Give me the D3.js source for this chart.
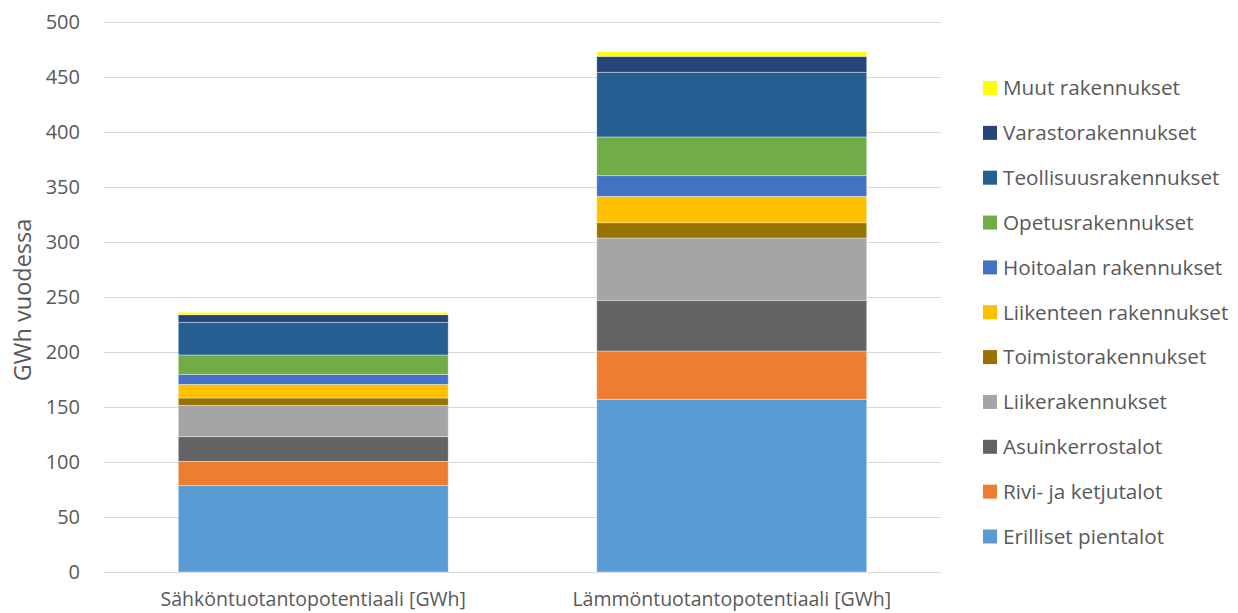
<!DOCTYPE html>
<html>
<head>
<meta charset="utf-8">
<script src="https://cdn.jsdelivr.net/npm/d3@7"></script>
<style>
  body { margin: 0; background: #fff; }
  text { font-family: "Open Sans", sans-serif; fill: #595959; }
</style>
</head>
<body>
<div id="chart"></div>
<script>
// data (GWh / year)
var categories = ["Sähköntuotantopotentiaali [GWh]", "Lämmöntuotantopotentiaali [GWh]"];
var seriesNames = ["Erilliset pientalot", "Rivi- ja ketjutalot", "Asuinkerrostalot", "Liikerakennukset",
    "Toimistorakennukset", "Liikenteen rakennukset", "Hoitoalan rakennukset", "Opetusrakennukset",
    "Teollisuusrakennukset", "Varastorakennukset", "Muut rakennukset"];
var sahko = [78.5, 22.1, 22.4, 28.5, 6.7, 12.4, 9.1, 17.6, 29.7, 6.9, 2.2];
var lampo = [157, 43.9, 46.1, 56.6, 13.9, 24, 18.8, 35.2, 58.8, 14.5, 4.2];
var colors = ["#5B9BD5", "#ED7D31", "#636363", "#A5A5A5", "#997300", "#FFC000",
    "#4472C4", "#70AD47", "#255E91", "#264478", "#FFFF00"];
var yTicks = [0, 50, 100, 150, 200, 250, 300, 350, 400, 450, 500];

var width = 1238, height = 613;
var margin = { top: 22, right: 297, bottom: 41, left: 104 };

var svg = d3.select("#chart").append("svg")
    .attr("width", width)
    .attr("height", height);

var x = d3.scaleBand()
    .domain(categories)
    .range([margin.left, width - margin.right])
    .paddingInner(0.355)
    .paddingOuter(0.1775);

var y = d3.scaleLinear()
    .domain([0, 500])
    .range([height - margin.bottom, margin.top]);

var color = d3.scaleOrdinal().domain(seriesNames).range(colors);

// rows for the stack
var rows = categories.map((c, i) => {
    var r = { cat: c };
    seriesNames.forEach((s, j) => { r[s] = (i == 0 ? sahko : lampo)[j]; });
    return r;
});
var stacked = d3.stack().keys(seriesNames)(rows);

// grid
svg.append("g")
    .selectAll("line")
    .data(yTicks)
    .enter()
    .append("line")
    .attr("x1", margin.left)
    .attr("x2", width - margin.right)
    .attr("y1", d => Math.round(y(d)) + 0.5)
    .attr("y2", d => Math.round(y(d)) + 0.5)
    .attr("stroke", "#d9d9d9")
    .attr("stroke-width", 1);

// y axis labels
var yAxis = svg.append("g")
    .attr("transform", "translate(" + (margin.left - 24) + ",0)")
    .call(d3.axisLeft(y).tickValues(yTicks).tickSize(0).tickPadding(0));
yAxis.select(".domain").remove();
yAxis.selectAll("text")
    .style("font-family", "Open Sans, sans-serif")
    .style("font-size", "20px")
    .attr("fill", "#595959");

// bars
svg.append("g")
    .selectAll("g")
    .data(stacked)
    .enter()
    .append("g")
    .attr("fill", d => color(d.key))
    .selectAll("rect")
    .data(d => d)
    .enter()
    .append("rect")
    .attr("x", d => x(d.data.cat))
    .attr("y", d => y(d[1]))
    .attr("width", x.bandwidth())
    .attr("height", d => y(d[0]) - y(d[1]))
    .attr("stroke", "#ffffff")
    .attr("stroke-opacity", 0.45)
    .attr("stroke-width", 0.8);

// category labels
var xAxis = svg.append("g")
    .attr("transform", "translate(0," + (height - margin.bottom) + ")")
    .call(d3.axisBottom(x).tickSize(0).tickPadding(20));
xAxis.select(".domain").remove();
xAxis.selectAll("text")
    .style("font-family", "Open Sans, sans-serif")
    .style("font-size", "19.5px")
    .attr("fill", "#595959");

// y title
svg.append("text")
    .attr("transform", "translate(31,300) rotate(-90)")
    .attr("text-anchor", "middle")
    .style("font-size", "23.5px")
    .text("GWh vuodessa");

// legend, top entry is the last series
var legend = svg.append("g")
    .attr("transform", "translate(983,88)");
var items = legend.selectAll("g")
    .data(seriesNames.slice().reverse())
    .enter()
    .append("g")
    .attr("transform", (d, i) => "translate(0," + i * 44.85 + ")");
items.append("rect")
    .attr("x", 0)
    .attr("y", -7)
    .attr("width", 14)
    .attr("height", 14)
    .attr("fill", d => color(d));
items.append("text")
    .attr("x", 20)
    .attr("dy", "0.35em")
    .style("font-size", "20.7px")
    .text(d => d);
</script>
</body>
</html>
